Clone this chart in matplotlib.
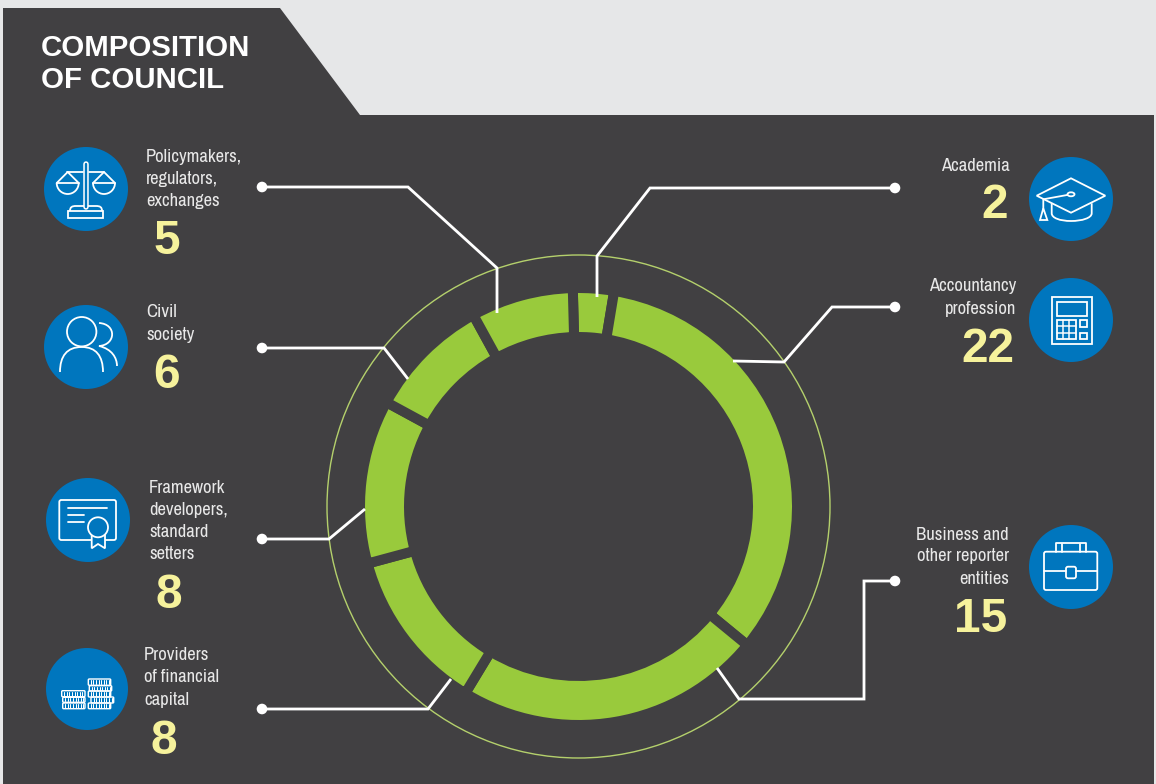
import numpy as np
import matplotlib
matplotlib.use('Agg')
import matplotlib.pyplot as plt
from matplotlib.patches import Circle, Ellipse, FancyBboxPatch, Polygon, Rectangle, Arc, PathPatch
from matplotlib.path import Path

# Seats per constituency, clockwise from the top of the ring
categories = ['Academia', 'Accountancy\nprofession', 'Business and\nother reporter\nentities',
              'Providers\nof financial\ncapital', 'Framework\ndevelopers,\nstandard\nsetters',
              'Civil\nsociety', 'Policymakers,\nregulators,\nexchanges']
seats = [2, 22, 15, 8, 8, 6, 5]
title_lines = ['COMPOSITION', 'OF COUNCIL']

PAGE = '#e6e7e8'
DARK = '#414042'
GREEN = '#99ca3c'
RING = '#b4d06c'
BLUE = '#0076be'
YELLOW = '#f6f29c'
LABEL = '#e8e8e8'
WHITE = 'white'
NARROW = ['Archivo Narrow', 'Liberation Sans']
BOLD = ['Liberation Sans', 'DejaVu Sans']

CX, CY = 578.5, 506.5
R_OUT, R_IN = 213.5, 174.5
GAP = 10
PX = 0.72  # points per pixel at dpi 100
ICON_LW = 1.8

fig = plt.figure(figsize=(11.56, 7.84), dpi=100, facecolor=PAGE)
ax = fig.add_axes([0, 0, 1, 1])

# Panel with the cut corner behind the title
ax.add_patch(Polygon([(3, 8), (280, 8), (360, 115), (1154, 115), (1154, 784), (3, 784)],
                     closed=True, facecolor=DARK, edgecolor='none', zorder=1))

ax.add_patch(Circle((CX, CY), 251.5, fill=False, edgecolor=RING, linewidth=1.4 * PX, zorder=2))

# y runs downwards here, so counterclock=True reads clockwise on screen.
# The thick panel-coloured edge cuts the gaps between the segments.
ax.pie(seats, startangle=-91.5, center=(CX, CY), radius=R_OUT + GAP / 2, colors=[GREEN] * len(seats),
       wedgeprops=dict(width=R_OUT - R_IN + GAP, edgecolor=DARK, linewidth=GAP * PX, zorder=3))

ax.set_xlim(0, 1156)
ax.set_ylim(784, 0)
ax.axis('off')


def line(xs, ys, lw=ICON_LW, color=WHITE, z=6):
    ax.plot(xs, ys, color=color, linewidth=lw * PX, zorder=z, solid_capstyle='round',
            solid_joinstyle='round')


def curve(verts, codes):
    ax.add_patch(PathPatch(Path(verts, codes), fill=False, edgecolor=WHITE, linewidth=ICON_LW * PX, zorder=6))


# Leader lines from each label into the ring
leaders = [
    [(262, 187), (408, 187), (497, 268), (497, 313)],
    [(262, 348), (384, 348), (408, 379)],
    [(262, 539), (329, 539), (365, 509)],
    [(262, 709), (428, 709), (451, 679)],
    [(895, 188), (650, 188), (597, 256), (597, 297)],
    [(895, 307), (832, 307), (784, 362), (733, 361)],
    [(895, 581), (864, 581), (864, 699), (739, 699), (717, 668)],
]
for pts in leaders:
    xs, ys = zip(*pts)
    ax.plot(xs, ys, color=WHITE, linewidth=2.8 * PX, zorder=5, solid_joinstyle='miter', solid_capstyle='butt')
    ax.add_patch(Circle(pts[0], 5.3, facecolor=WHITE, edgecolor='none', zorder=5))


def box(x0, y0, x1, y1, pad=2.0, face='none', lw=ICON_LW, z=6):
    ax.add_patch(FancyBboxPatch((x0 + pad, y0 + pad), x1 - x0 - 2 * pad, y1 - y0 - 2 * pad,
                                boxstyle='round,pad=%g' % pad, facecolor=face, edgecolor=WHITE,
                                linewidth=lw * PX, zorder=z))


def rect(x0, y0, x1, y1, lw=ICON_LW):
    ax.add_patch(Rectangle((x0, y0), x1 - x0, y1 - y0, fill=False, edgecolor=WHITE, linewidth=lw * PX, zorder=6))


def icon_scales():
    line([86, 86], [164, 207], lw=5.5)
    line([86, 86], [164, 207], lw=2.4, color=BLUE, z=7)
    line([67, 83], [172, 172])
    line([89, 104], [172, 172])
    for px in (67.7, 104):
        line([px - 11, px, px + 11], [183, 172, 183])
        ax.add_patch(Arc((px, 183), 22, 22, theta1=0, theta2=180, edgecolor=WHITE, linewidth=ICON_LW * PX, zorder=6))
        line([px - 11, px + 11], [183, 183])
    curve([(70, 211), (70, 207), (72, 206), (76, 206), (96, 206), (100, 206), (102, 207), (102, 211)],
          [Path.MOVETO, Path.CURVE4, Path.CURVE4, Path.CURVE4, Path.LINETO, Path.CURVE4, Path.CURVE4, Path.CURVE4])
    rect(68, 211, 103, 218)


def icon_people():
    ax.add_patch(Circle((81.7, 331.7), 14.7, fill=False, edgecolor=WHITE, linewidth=ICON_LW * PX, zorder=6))
    codes = [Path.MOVETO, Path.CURVE4, Path.CURVE4, Path.CURVE4, Path.CURVE4, Path.CURVE4, Path.CURVE4]
    curve([(60, 372), (60, 356), (67, 347), (81.7, 347), (96, 347), (103, 356), (103, 372)], codes)
    curve([(99, 323), (117, 324), (116, 345), (99, 346), (112, 349), (117, 358), (117, 366)], codes)


def icon_certificate():
    box(59.3, 500, 116, 540, pad=2)
    line([67.7, 107.3], [507.7, 507.7])
    line([67.7, 84], [515, 515])
    line([67.7, 84], [522.3, 522.3])
    ax.add_patch(Polygon([(91.7, 535), (91.7, 548.3), (98, 544), (105, 548.3), (105, 535)], closed=True,
                         facecolor=BLUE, edgecolor=WHITE, linewidth=ICON_LW * PX, zorder=6))
    ax.add_patch(Circle((98, 527.3), 10, facecolor=BLUE, edgecolor=WHITE, linewidth=ICON_LW * PX, zorder=7))


def icon_coins():
    rows = [(61.7, 85, 690.7, 696.7), (62.7, 85, 697.3, 702.3), (62.7, 85, 703, 708.7),
            (88.3, 110.7, 679, 685.3), (89.3, 111.7, 685.7, 691), (88.3, 110.7, 691, 697),
            (91, 113.7, 697, 703), (88.3, 110.7, 703, 708.7)]
    for x0, x1, y0, y1 in rows:
        box(x0, y0, x1, y1, pad=1, lw=1.4)
        for x in np.arange(x0 + 2.5, x1 - 1, 2.6):
            line([x, x], [y0 + 1, y1 - 1], lw=1.0)


def icon_cap():
    ax.add_patch(Polygon([(1071, 178.3), (1105.3, 195.7), (1071, 212.7), (1036.7, 195.7)], closed=True,
                         fill=False, edgecolor=WHITE, linewidth=ICON_LW * PX, zorder=6))
    curve([(1051.7, 203.3), (1051.7, 213.3), (1051.7, 218), (1060, 221), (1071, 221),
           (1082, 221), (1091.7, 218), (1091.7, 213.3), (1091.7, 203.3)],
          [Path.MOVETO, Path.LINETO, Path.CURVE4, Path.CURVE4, Path.CURVE4,
           Path.CURVE4, Path.CURVE4, Path.CURVE4, Path.LINETO])
    line([1071, 1043.3, 1043.3], [194.3, 199.3, 208.3])
    ax.add_patch(Ellipse((1071, 194.3), 7, 4, facecolor=BLUE, edgecolor=WHITE, linewidth=ICON_LW * PX, zorder=7))
    ax.add_patch(Polygon([(1043.3, 208.3), (1040, 220), (1047.3, 220)], closed=True, fill=False,
                         edgecolor=WHITE, linewidth=ICON_LW * PX, zorder=6))


def icon_calculator():
    rect(1051.7, 296.7, 1092.3, 344)
    rect(1056.7, 302.3, 1087.3, 315.7)
    rect(1056.7, 320, 1075.7, 339.3)
    for x in (1063, 1069.4):
        line([x, x], [320, 339.3], lw=1.5)
    for y in (326.4, 332.9):
        line([1056.7, 1075.7], [y, y], lw=1.5)
    rect(1080, 320, 1087.3, 326.7)
    rect(1080, 332.7, 1087.3, 339.3)


def icon_briefcase():
    line([1055.7, 1055.7, 1085.7, 1085.7], [551.7, 543.3, 543.3, 551.7])
    line([1061.7, 1061.7], [544, 551.7])
    line([1080, 1080], [544, 551.7])
    box(1044, 551.7, 1097.3, 590, pad=2)
    line([1044, 1066], [570.7, 570.7])
    line([1076, 1097.3], [570.7, 570.7])
    box(1066, 566.7, 1076, 578.3, pad=2)


# One blue disc plus its white line drawing per constituency
icons = [
    (1071, 199, 42, icon_cap), (1071, 320, 42, icon_calculator), (1071, 567, 42, icon_briefcase),
    (87, 689, 41, icon_coins), (88, 520, 42, icon_certificate), (86, 347, 42, icon_people),
    (86, 189, 42, icon_scales),
]
for cx, cy, r, draw in icons:
    ax.add_patch(Circle((cx, cy), r, facecolor=BLUE, edgecolor='none', zorder=4))
    draw()

# Text anchors: label anchor x, alignment, first line y, line pitch, number x, number y
anchors = [
    (1010, 'right', 164, 22.5, 995, 200.5),
    (1016, 'right', 284, 23, 988, 344),
    (1009, 'right', 533, 22, 980.5, 614),
    (144, 'left', 654, 22, 164, 736),
    (149, 'left', 486, 22.3, 169, 590.5),
    (146, 'left', 310, 23, 167, 370),
    (146, 'left', 155, 22, 167, 236),
]
for label, n, (lx, ha, ly, pitch, nx, ny) in zip(categories, seats, anchors):
    for i, part in enumerate(label.split('\n')):
        ax.text(lx, ly + i * pitch, part, color=LABEL, fontsize=13.4, family=NARROW, ha=ha,
                va='center_baseline', zorder=8)
    ax.text(nx, ny, str(n), color=YELLOW, fontsize=34.5, family=BOLD, fontweight='bold',
            ha='center', va='center_baseline', zorder=8)

for i, part in enumerate(title_lines):
    ax.text(41, 45 + i * 32, part, color=WHITE, fontsize=21.2, family=BOLD, fontweight='bold',
            ha='left', va='center_baseline', zorder=8)

fig.savefig('out.png', dpi=100, facecolor=PAGE)
